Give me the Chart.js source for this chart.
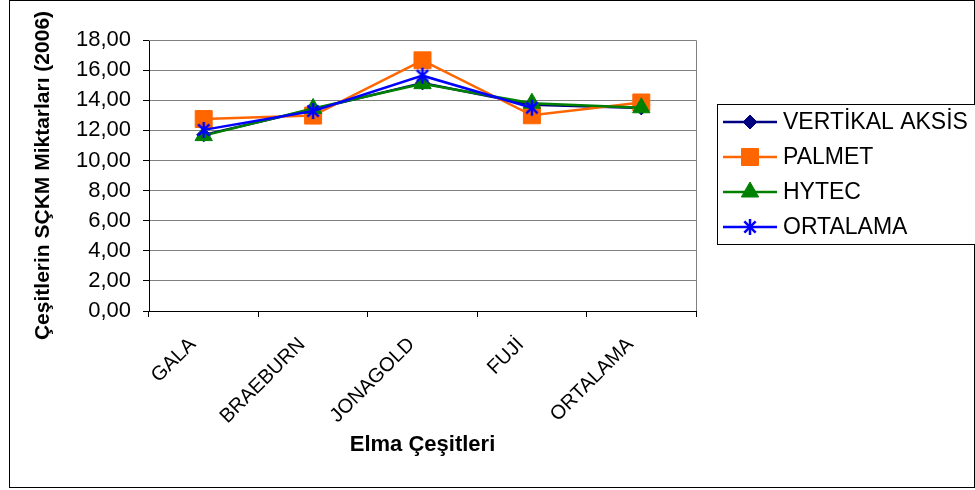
<!DOCTYPE html>
<html><head><meta charset="utf-8">
<script src="https://cdn.jsdelivr.net/npm/chart.js@4/dist/chart.umd.min.js"></script>
<style>html,body{margin:0;padding:0;background:#fff;}#wrap{position:relative;width:975px;height:490px;}</style>
</head><body><div id="wrap"><canvas id="c" width="975" height="490"></canvas></div>
<script>
const categories = ['GALA', 'BRAEBURN', 'JONAGOLD', 'FUJİ', 'ORTALAMA'];
const seriesNames = ['VERTİKAL AKSİS', 'PALMET', 'HYTEC', 'ORTALAMA'];
const vertikalAksis = [11.70, 13.40, 15.15, 13.70, 13.49];
const palmet = [12.75, 12.98, 16.65, 13.00, 13.85];
const hytec = [11.65, 13.45, 15.10, 13.80, 13.50];
const ortalama = [12.03, 13.28, 15.63, 13.50, null];
const yMin = 0, yMax = 18, yStep = 2;
const xTitle = 'Elma Çeşitleri';
const yTitle = 'Çeşitlerin SÇKM Miktarları (2006)';

const FONT = '"Liberation Sans", Arial, sans-serif';

function makeAsterisk(color, size, lw) {
  const c = document.createElement('canvas');
  c.width = size; c.height = size;
  const g = c.getContext('2d');
  g.strokeStyle = color; g.lineWidth = lw;
  const cx = size / 2, cy = size / 2, r = size / 2 - 1;
  [90, 45, -45].forEach(a => {
    const t = a * Math.PI / 180;
    g.beginPath();
    g.moveTo(cx - r * Math.cos(t), cy - r * Math.sin(t));
    g.lineTo(cx + r * Math.cos(t), cy + r * Math.sin(t));
    g.stroke();
  });
  return c;
}
const asterisk = makeAsterisk('#0000FF', 18, 2.5);

const datasets = [
  {label: seriesNames[0], data: vertikalAksis, borderColor: '#000080', backgroundColor: '#000080',
   pointStyle: 'rectRot', pointRadius: 7, order: 4},
  {label: seriesNames[1], data: palmet, borderColor: '#FF6600', backgroundColor: '#FF6600',
   pointStyle: 'rect', pointRadius: 12, order: 3},
  {label: seriesNames[2], data: hytec, borderColor: '#008000', backgroundColor: '#008000',
   pointStyle: 'triangle', pointRadius: 10, order: 2},
  {label: seriesNames[3], data: ortalama, borderColor: '#0000FF', backgroundColor: '#0000FF',
   pointStyle: asterisk, pointRadius: 9, order: 1}
].map(d => Object.assign({borderWidth: 2.5, pointBorderWidth: 1, pointHoverRadius: d.pointRadius,
  tension: 0, spanGaps: false}, d));

const frame = {
  id: 'frame',
  afterDraw(chart) {
    const ctx = chart.ctx, a = chart.chartArea;
    ctx.save();
    ctx.strokeStyle = '#808080'; ctx.lineWidth = 1;
    ctx.beginPath();
    ctx.moveTo(a.left, Math.round(a.top) + 0.5);
    ctx.lineTo(Math.round(a.right) + 0.5, Math.round(a.top) + 0.5);
    ctx.lineTo(Math.round(a.right) + 0.5, a.bottom);
    ctx.stroke();
    ctx.strokeStyle = '#000'; ctx.lineWidth = 1;
    ctx.strokeRect(9.5, 0.5, 965, 487);
    const lx = 717, ly = 104, lw = 260, lh = 140;
    ctx.fillStyle = '#fff';
    ctx.fillRect(lx, ly, lw, lh);
    ctx.strokeRect(lx + 0.5, ly + 0.5, lw, lh);
    chart.data.datasets.forEach((d, i) => {
      const y = 122 + 35 * i;
      ctx.strokeStyle = d.borderColor; ctx.lineWidth = 2.5;
      ctx.beginPath(); ctx.moveTo(723, y); ctx.lineTo(777, y); ctx.stroke();
      ctx.fillStyle = d.backgroundColor; ctx.strokeStyle = d.borderColor; ctx.lineWidth = 1;
      Chart.helpers.drawPoint(ctx, {pointStyle: d.pointStyle, radius: d.pointRadius, rotation: 0, borderWidth: 1}, 750, y);
      ctx.fillStyle = '#000';
      ctx.font = '23px ' + FONT;
      ctx.textBaseline = 'middle'; ctx.textAlign = 'left';
      ctx.fillText(d.label, 783, y + 1);
    });
    ctx.restore();
  }
};

new Chart(document.getElementById('c'), {
  type: 'line',
  data: {labels: categories, datasets},
  options: {
    responsive: false, animation: false, devicePixelRatio: 1,
    layout: {padding: {left: 10, top: 40, right: 279, bottom: 0}},
    plugins: {legend: {display: false}, tooltip: {enabled: false}},
    scales: {
      x: {
        offset: true,
        grid: {display: true, drawOnChartArea: false, drawTicks: true, tickLength: 6, tickColor: '#000', offset: true},
        border: {color: '#000', width: 1},
        ticks: {color: '#000', font: {family: FONT, size: 20}, maxRotation: 45, minRotation: 45, padding: 16, labelOffset: -11, autoSkip: false},
        title: {display: true, text: xTitle, color: '#000', font: {family: FONT, size: 22, weight: 'bold'}, padding: {top: 0, bottom: 32}},
        afterFit(s) { s.height = 179; }
      },
      y: {
        min: yMin, max: yMax,
        grid: {color: '#808080', lineWidth: 1, tickLength: 6, tickColor: '#000'},
        border: {color: '#000', width: 1},
        ticks: {stepSize: yStep, color: '#000', font: {family: FONT, size: 22}, padding: 12,
          callback: v => Number(v).toFixed(2).replace('.', ',')},
        title: {display: true, text: yTitle, color: '#000', font: {family: FONT, size: 21, weight: 'bold'}, padding: {top: 21, bottom: 0}},
        afterFit(s) { s.width = 139; }
      }
    }
  },
  plugins: [frame]
});
</script></body></html>
